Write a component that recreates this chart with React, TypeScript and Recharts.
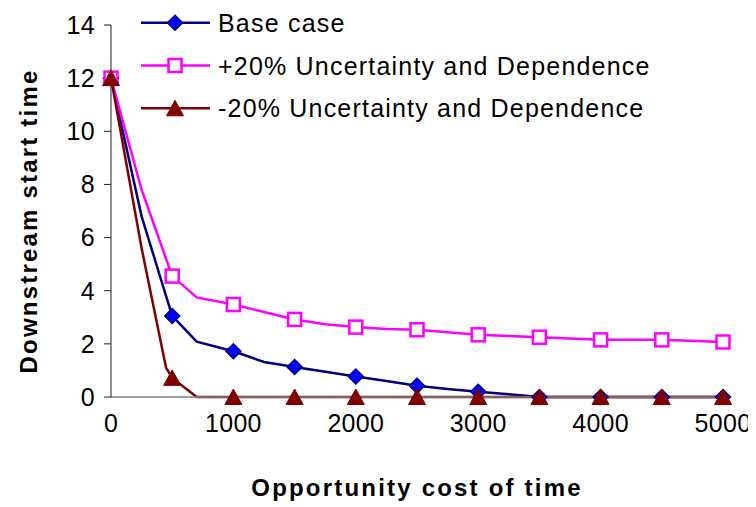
import React from 'react';
import { LineChart, Line, XAxis, YAxis, Legend, Label } from 'recharts';

// Opportunity cost grid (markers only at every 500)
const costs = [0, 250, 450, 500, 700, 1000, 1250, 1500, 1750, 2000, 2250, 2500, 2750, 3000, 3250, 3500, 4000, 4500, 5000];
const baseCase = [12, 6.8, 3.8, 3.05, 2.08, 1.72, 1.32, 1.13, 0.95, 0.77, 0.6, 0.42, 0.3, 0.2, 0.1, 0, 0, 0, 0];
const plusTwenty = [12, 7.8, 5.2, 4.55, 3.75, 3.48, 3.2, 2.92, 2.74, 2.63, 2.56, 2.53, 2.44, 2.34, 2.3, 2.25, 2.15, 2.15, 2.07];
const minusTwenty = [12, 5.6, 1.1, 0.72, 0, 0, 0, 0, 0, 0, 0, 0, 0, 0, 0, 0, 0, 0, 0];

const markerCosts = [0, 500, 1000, 1500, 2000, 2500, 3000, 3500, 4000, 4500, 5000];
const xTicks = [0, 1000, 2000, 3000, 4000, 5000];
const yTicks = [0, 2, 4, 6, 8, 10, 12, 14];
const seriesNames = ['Base case', '+20% Uncertainty and Dependence', '-20% Uncertainty and Dependence'];

const data = costs.map((c, i) => ({
  cost: c,
  base: baseCase[i],
  plus: plusTwenty[i],
  minus: minusTwenty[i],
}));

const FONT = '"Liberation Sans", Arial, sans-serif';
const NAVY = '#000080';
const BLUE = '#0000FF';
const MAGENTA = '#FF00FF';
const MAROON = '#800000';

type P = { cx: number; cy: number };

const Diamond = ({ cx, cy }: P) => (
  <polygon
    points={`${cx},${cy - 7.5} ${cx + 7.5},${cy} ${cx},${cy + 7.5} ${cx - 7.5},${cy}`}
    fill={BLUE}
    stroke={NAVY}
    strokeWidth={1.5}
  />
);

const Square = ({ cx, cy }: P) => (
  <rect x={cx - 6.5} y={cy - 6.5} width={13} height={13} fill="#fff" stroke={MAGENTA} strokeWidth={2.5} />
);

const Triangle = ({ cx, cy }: P) => (
  <polygon
    points={`${cx},${cy - 8} ${cx + 8.5},${cy + 7.5} ${cx - 8.5},${cy + 7.5}`}
    fill={MAROON}
    stroke={MAROON}
    strokeWidth={1}
  />
);

const makeDot = (Shape: (p: P) => React.ReactElement, tag: string) => (props: any) => {
  const key = `${tag}-${props.index}`;
  if (!markerCosts.includes(props.payload.cost) || props.cx == null || props.cy == null) {
    return <g key={key} />;
  }
  return (
    <g key={key}>
      <Shape cx={props.cx} cy={props.cy} />
    </g>
  );
};

const legendRows = [
  { name: seriesNames[0], color: NAVY, Shape: Diamond },
  { name: seriesNames[1], color: MAGENTA, Shape: Square },
  { name: seriesNames[2], color: MAROON, Shape: Triangle },
];

const LegendBox = () => (
  <svg width={560} height={125} style={{ display: 'block', overflow: 'visible' }}>
    {legendRows.map((row, i) => {
      const y = 14.7 + i * 42.8;
      return (
        <g key={row.name}>
          <line x1={8} x2={77} y1={y} y2={y} stroke={row.color} strokeWidth={2.5} />
          <row.Shape cx={42} cy={y} />
          <text
            x={85}
            y={y}
            dominantBaseline="central"
            fontFamily={FONT}
            fontSize={25}
            letterSpacing={1.2}
            fill="#000"
          >
            {row.name}
          </text>
        </g>
      );
    })}
  </svg>
);

const tickStyle = { fill: '#000', fontSize: 25, fontFamily: FONT, letterSpacing: 0.3 };

const XTitle = () => (
  <text x={409} y={488} textAnchor="middle" fontFamily={FONT} fontSize={24} fontWeight="bold" letterSpacing={2.2} fill="#000">
    Opportunity cost of time
  </text>
);

const YTitle = () => (
  <text
    x={20}
    y={213}
    transform="rotate(-90 20 213)"
    textAnchor="middle"
    dominantBaseline="central"
    fontFamily={FONT}
    fontSize={24}
    fontWeight="bold"
    letterSpacing={2.2}
    fill="#000"
  >
    Downstream start time
  </text>
);

export default function App() {
  return (
    <LineChart width={748} height={499} data={data} margin={{ top: 17, right: 33, bottom: 0, left: 0 }}>
      <XAxis
        dataKey="cost"
        type="number"
        domain={[0, 5000]}
        ticks={xTicks}
        interval={0}
        tickLine={false}
        stroke="#808080"
        strokeWidth={1.5}
        tick={tickStyle}
        tickSize={8}
        tickMargin={9}
        height={110}
      >
        <Label content={<XTitle />} />
      </XAxis>
      <YAxis
        type="number"
        domain={[0, 14]}
        ticks={yTicks}
        interval={0}
        width={103}
        tickSize={7}
        tickMargin={9}
        stroke="#222"
        tick={tickStyle}
      >
        <Label content={<YTitle />} />
      </YAxis>
      <Legend
        content={<LegendBox />}
        layout="horizontal"
        verticalAlign="middle"
        align="center"
        wrapperStyle={{ left: 125, top: 0, width: 560 }}
      />
      <Line
        dataKey="base"
        name={seriesNames[0]}
        type="linear"
        stroke={NAVY}
        strokeWidth={2.5}
        dot={makeDot(Diamond, 'base')}
        activeDot={false}
        isAnimationActive={false}
      />
      <Line
        dataKey="plus"
        name={seriesNames[1]}
        type="linear"
        stroke={MAGENTA}
        strokeWidth={2.5}
        dot={makeDot(Square, 'plus')}
        activeDot={false}
        isAnimationActive={false}
      />
      <Line
        dataKey="minus"
        name={seriesNames[2]}
        type="linear"
        stroke={MAROON}
        strokeWidth={2.5}
        dot={makeDot(Triangle, 'minus')}
        activeDot={false}
        isAnimationActive={false}
      />
    </LineChart>
  );
}
